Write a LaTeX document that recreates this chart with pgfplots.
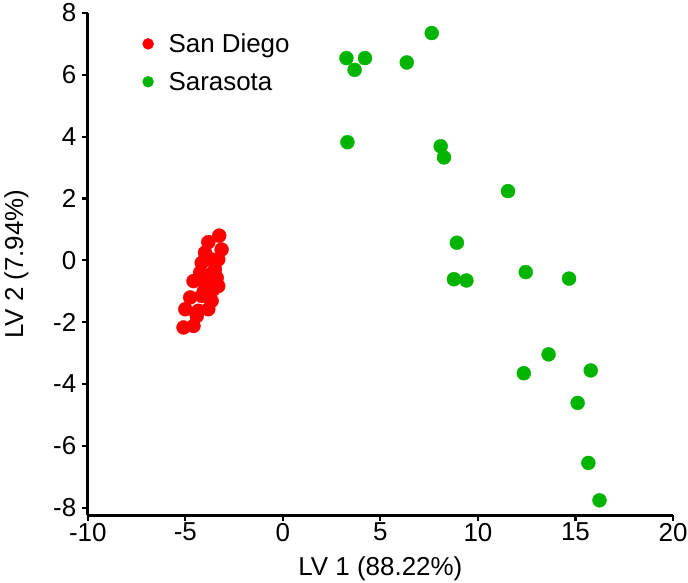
\documentclass[border=0pt]{standalone}
\usepackage{fontspec}
\setmainfont{Liberation Sans}
\usepackage{pgfplots}
\pgfplotsset{compat=1.18}
\definecolor{sdred}{RGB}{255,0,0}
\definecolor{sagreen}{RGB}{0,180,0}
\begin{document}
\begin{tikzpicture}
\begin{axis}[
    width=587pt, height=504pt, scale only axis,
    xmin=-10, xmax=20, ymin=-8.25, ymax=8,
    axis lines=left,
    axis line style={-, line width=3.5pt},
    xtick={-10,-5,0,5,10,15,20},
    ytick={-8,-6,-4,-2,0,2,4,6,8},
    tick align=outside,
    major tick length=6pt,
    tick style={line width=2.2pt, black},
    font=\fontsize{26}{30}\selectfont,
    tick label style={font=\fontsize{26}{30}\selectfont},
    xticklabel style={yshift=2pt},
    yticklabel style={xshift=-2pt},
    /pgf/number format/assume math mode=true,
    xlabel={LV 1 (88.22\%)},
    ylabel={LV 2 (7.94\%)},
    xlabel style={yshift=-9pt},
    ylabel style={yshift=18pt},
    legend style={draw=none, fill=none, at={(0.088,0.967)}, anchor=north west,
        font=\fontsize{26}{30}\selectfont, row sep=14pt},
    legend cell align=left,
]
\addplot[only marks, color=sdred, mark=*, mark size=7pt, mark options={draw=none, fill=sdred},
    legend image code/.code={\fill[sdred] (0.2cm,0) circle (5.5pt); \path[draw=none] (0,0) (0.85cm,0);}]
coordinates {
(-3.26,0.80) (-3.82,0.59) (-3.14,0.35) (-3.99,0.25) (-3.65,0.03)
(-3.31,0.03) (-4.16,-0.08) (-3.48,-0.29) (-4.24,-0.40) (-3.39,-0.56)
(-4.58,-0.67) (-3.99,-0.72) (-3.31,-0.83) (-3.56,-0.94) (-4.75,-1.20)
(-4.16,-1.15) (-3.65,-1.31) (-5.00,-1.58) (-3.82,-1.58) (-4.33,-1.63)
(-4.41,-1.80) (-5.09,-2.17) (-4.58,-2.12) (-3.70,-0.45) (-4.05,-1.00)
};
\addlegendentry{San Diego}
\addplot[only marks, color=sagreen, mark=*, mark size=7pt, mark options={draw=none, fill=sagreen},
    legend image code/.code={\fill[sagreen] (0.2cm,0) circle (5.5pt); \path[draw=none] (0,0) (0.85cm,0);}]
coordinates {
(7.63,7.35) (3.26,6.54) (4.21,6.54) (3.68,6.16) (6.35,6.40)
(3.31,3.82) (8.09,3.69) (8.26,3.33) (11.54,2.24) (8.92,0.57)
(8.77,-0.61) (9.41,-0.65) (12.45,-0.38) (14.67,-0.59) (13.62,-3.04)
(12.35,-3.65) (15.78,-3.56) (15.11,-4.61) (15.66,-6.55) (16.23,-7.76)
};
\addlegendentry{Sarasota}
\end{axis}
\pgfresetboundingbox
\path[use as bounding box] ([xshift=-88pt,yshift=-67pt]current axis.south west)
    rectangle ([xshift=15pt,yshift=13pt]current axis.north east);
\end{tikzpicture}
\end{document}
